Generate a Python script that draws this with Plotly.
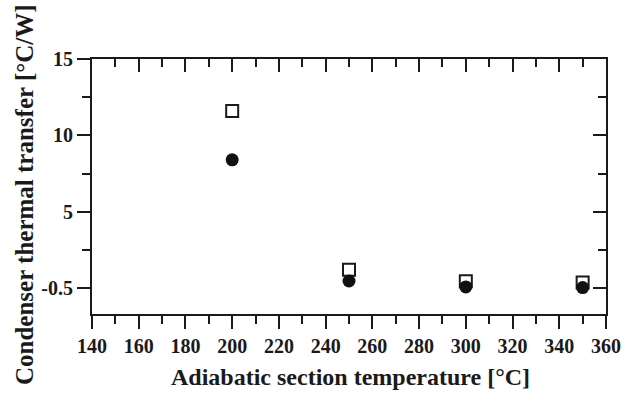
import plotly.graph_objects as go

# Data
temperature = [200, 250, 300, 350]
series_open_square = [11.6, 1.2, 0.44, 0.37]
series_filled_circle = [8.4, 0.46, 0.07, 0.03]

x_tick_vals = [140, 160, 180, 200, 220, 240, 260, 280, 300, 320, 340, 360]
y_tick_vals = [0, 5, 10, 15]
y_tick_text = ["-0.5", "5", "10", "15"]

FONT = "Liberation Serif"
INK = "#1a1a1a"

fig = go.Figure()

fig.add_trace(go.Scatter(
    x=temperature, y=series_open_square, mode="markers",
    marker=dict(symbol="square-open", size=12, color=INK, line=dict(width=2, color=INK)),
    showlegend=False, hoverinfo="skip"))
fig.add_trace(go.Scatter(
    x=temperature, y=series_filled_circle, mode="markers",
    marker=dict(symbol="circle", size=13, color="#111111", line=dict(width=0)),
    showlegend=False, hoverinfo="skip"))
# empty trace to attach the mirrored (inside-tick) axes
fig.add_trace(go.Scatter(x=[], y=[], xaxis="x2", yaxis="y2", showlegend=False, hoverinfo="skip"))

xr = [140, 360]
yr = [-1.7, 15]

common = dict(showgrid=False, zeroline=False, showline=True, linecolor=INK, linewidth=2,
              tickcolor=INK, tickwidth=2)

fig.update_layout(
    width=635, height=395,
    margin=dict(l=92, r=29, t=59, b=81),
    paper_bgcolor="white", plot_bgcolor="white",
    font=dict(family=FONT, color=INK),
    xaxis=dict(range=xr, tickvals=x_tick_vals, ticktext=[f"<b>{v}</b>" for v in x_tick_vals],
               ticks="outside", ticklen=13, tickfont=dict(family=FONT, size=20, color=INK),
               minor=dict(ticks="outside", dtick=10, ticklen=8, tickwidth=2, tickcolor=INK),
               **common),
    yaxis=dict(range=yr, tickvals=y_tick_vals, ticktext=[f"<b>{t}</b>" for t in y_tick_text],
               ticks="outside", ticklen=13, tickfont=dict(family=FONT, size=20, color=INK),
               minor=dict(ticks="outside", tickvals=[2.5, 7.5, 12.5], ticklen=8, tickwidth=2, tickcolor=INK),
               **common),
    xaxis2=dict(range=xr, overlaying="x", side="top", anchor="y", tickvals=x_tick_vals,
                showticklabels=False, ticks="inside", ticklen=13,
                minor=dict(ticks="inside", dtick=10, ticklen=8, tickwidth=2, tickcolor=INK),
                **common),
    yaxis2=dict(range=yr, overlaying="y", side="right", anchor="x", tickvals=y_tick_vals,
                showticklabels=False, ticks="inside", ticklen=13,
                minor=dict(ticks="inside", tickvals=[2.5, 7.5, 12.5], ticklen=8, tickwidth=2, tickcolor=INK),
                **common),
    annotations=[
        dict(text="<b>Adiabatic section temperature [°C]</b>", xref="paper", yref="paper",
             x=(350 - 92) / 514, y=-(377 - 314) / 255, xanchor="center", yanchor="middle",
             showarrow=False, font=dict(family=FONT, size=24, color=INK)),
        dict(text="<b>Condenser thermal transfer [°C/W]</b>", xref="paper", yref="paper",
             x=(24 - 92) / 514, y=(314 - 195) / 255, xanchor="center", yanchor="middle",
             textangle=-90, showarrow=False, font=dict(family=FONT, size=25, color=INK)),
    ],
)

fig.write_html("out.html", config={"displayModeBar": False},
               post_script="document.body.style.margin='0';document.body.style.padding='0';")
